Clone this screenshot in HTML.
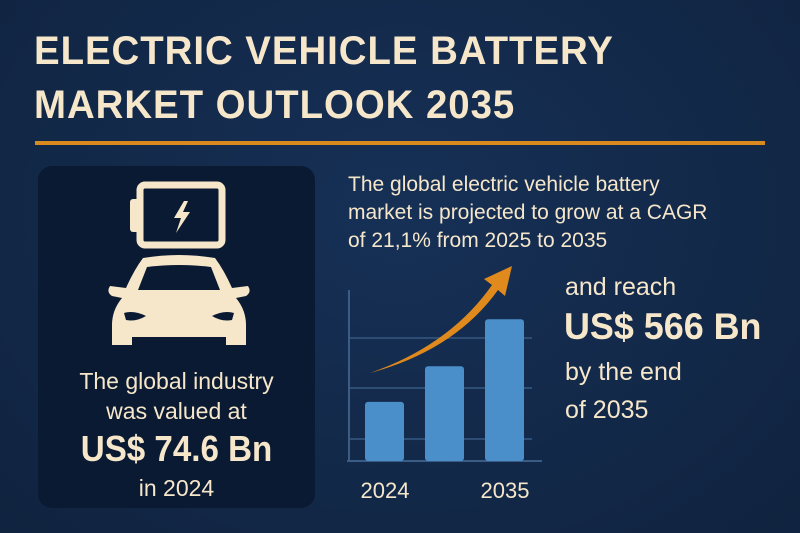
<!DOCTYPE html>
<html><head><meta charset="utf-8"><style>
body{margin:0;width:800px;height:533px;overflow:hidden;background:#13284a;font-family:"Liberation Sans",sans-serif}
.t{position:absolute;white-space:nowrap}
</style></head><body>
<div style="position:relative;width:800px;height:533px;background:radial-gradient(ellipse at 50% 40%,#163056,#10233f)">
<div class="t" style="left:34px;top:24px;color:#f6e7cb;font-weight:bold;font-size:40px;line-height:54px;letter-spacing:1px;transform:scaleX(0.96);transform-origin:left">ELECTRIC VEHICLE BATTERY<br>MARKET OUTLOOK 2035</div>
<div style="position:absolute;left:35px;top:141px;width:730px;height:4px;background:#d98a1f"></div>
<div style="position:absolute;left:38px;top:166px;width:277px;height:342px;border-radius:14px;background:#0b1a33"></div>
<svg style="position:absolute;left:0;top:0" width="800" height="533">
<g fill="#f6e7cb">
<rect x="140" y="185" width="82" height="60" rx="5" fill="none" stroke="#f6e7cb" stroke-width="7"/>
<rect x="130" y="199" width="10" height="33" rx="3"/>
<path d="M184 201 L174 218 L181 218 L176 233 L190 212 L183 212 L188 201Z"/>
</g>
<g fill="#f6e7cb">
<path d="M143 258 Q179 252 215 258 Q224 270 232 288 L248 286 Q252 292 246 296 L236 298 Q246 310 246 325 L246 345 L226 345 L226 337 L132 337 L132 345 L112 345 L112 325 Q112 310 122 298 L112 296 Q106 292 110 286 L126 288 Q134 270 143 258Z"/>
<path d="M147 267 Q179 263 211 267 L220 290 L138 290Z" fill="#0b1a33"/>
<path d="M124 313 Q134 310 146 316 Q136 322 126 320Z" fill="#0b1a33"/>
<path d="M234 313 Q224 310 212 316 Q222 322 232 320Z" fill="#0b1a33"/>
</g>
<g id="chart"></g>
</svg>
<div class="t" style="left:38px;width:277px;top:366px;text-align:center;color:#f6e7cb;font-size:23px;line-height:30px">The global industry<br>was valued at</div>
<div class="t" style="left:38px;width:277px;top:428px;text-align:center;color:#f6e7cb;font-size:36px;font-weight:bold;transform:scaleX(0.92);transform-origin:center">US$ 74.6 Bn</div>
<div class="t" style="left:38px;width:277px;top:475px;text-align:center;color:#f6e7cb;font-size:23px">in 2024</div>
<div class="t" style="left:348px;top:171px;color:#f6e7cb;font-size:21px;line-height:28px">The global electric vehicle battery<br>market is projected to grow at a CAGR<br>of 21,1% from 2025 to 2035</div>
<div class="t" style="left:565px;top:273px;color:#f6e7cb;font-size:25px">and reach</div>
<div class="t" style="left:564px;top:306px;color:#f6e7cb;font-size:37px;font-weight:bold;transform:scaleX(0.97);transform-origin:left">US$ 566 Bn</div>
<div class="t" style="left:565px;top:353px;color:#f6e7cb;font-size:25px;line-height:38px">by the end<br>of 2035</div>
</div>
<script>
const categories=["2024","","2035"];
const values=[83,133,199];
const tickLabels=["2024","2035"];
const NS="http://www.w3.org/2000/svg";
const g=document.getElementById("chart");
const x0=349,yb=461,ymax=240,ytop=290;
function y(v){return yb-v/ymax*(yb-ytop);}
function bx(i){return 365+i*60;}
function mk(t,a){const e=document.createElementNS(NS,t);for(const k in a)e.setAttribute(k,a[k]);g.appendChild(e);return e;}
[338,388,439].forEach(gy=>{const l=mk("line",{x1:x0,x2:532,y1:gy,y2:gy,stroke:"#2e4d75","stroke-width":2});

});
const ya=mk("line",{x1:x0,x2:x0,y1:290,y2:yb,stroke:"#3b5c85","stroke-width":2});


const xa=mk("line",{x1:x0-2,x2:542,y1:yb,y2:yb,stroke:"#3b5c85","stroke-width":2});


values.forEach((v,i)=>{const r=mk("rect",{x:bx(i),y:y(v),width:39,height:yb-y(v),rx:3,fill:"#4a8fc9"});

});
const ar=mk("path",{d:"M370 373 Q450 345 492 285 L484 279 L512 266 L505 296 L498 290 Q455 350 370 373Z",fill:"#e0891c"});


[0,2].forEach((i,k)=>{const t=mk("text",{x:bx(i)+20,y:498,"text-anchor":"middle",fill:"#f6e7cb","font-size":22,"font-family":"Liberation Sans, sans-serif"});t.textContent=tickLabels[k];

});
</script>
</body></html>
